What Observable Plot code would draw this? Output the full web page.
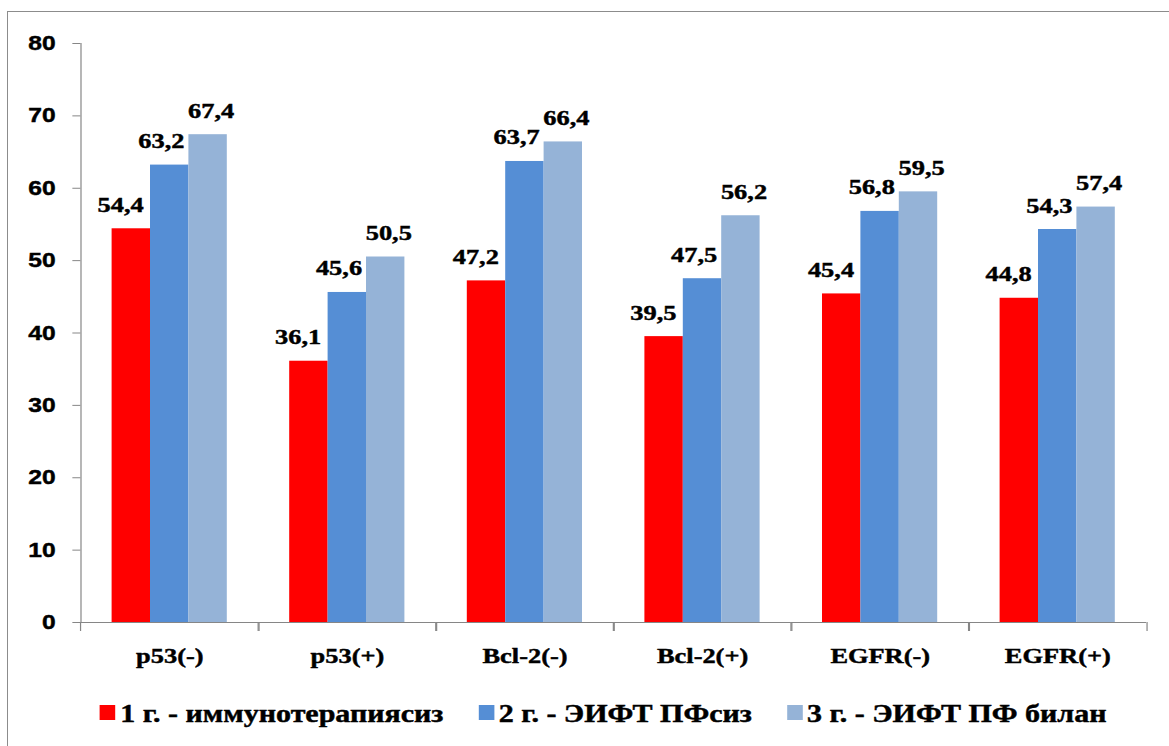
<!DOCTYPE html>
<html><head><meta charset="utf-8">
<script src="https://cdn.jsdelivr.net/npm/d3@7"></script>
<script src="https://cdn.jsdelivr.net/npm/@observablehq/plot@0.6"></script>
<style>
html,body{margin:0;padding:0;background:#fff;width:1169px;height:746px;overflow:hidden;}
#border{position:absolute;left:7px;top:11px;width:1200px;height:800px;border-left:1.5px solid #8c8c8c;border-top:1.5px solid #8c8c8c;}
#wrap{position:absolute;left:0;top:0;width:975px;height:746px;transform:scaleX(1.2);transform-origin:0 0;}
#chart{position:absolute;left:0;top:0;}
#chart svg text{stroke:#000;stroke-width:0.45px;}
#legend{position:absolute;left:83.3px;top:700px;display:flex;align-items:center;gap:29px;font:bold 25px "Liberation Serif","Times New Roman",serif;line-height:28px;color:#000;white-space:nowrap;-webkit-text-stroke:0.45px #000;}
.item{display:flex;align-items:center;}
.sw{display:inline-block;width:13px;height:15px;margin-right:4px;position:relative;top:-1.5px;}
</style></head>
<body>
<div id="border"></div>
<div id="wrap"><div id="chart"></div><div id="legend"></div></div>
<script>
const categories = ["p53(-)", "p53(+)", "Bcl-2(-)", "Bcl-2(+)", "EGFR(-)", "EGFR(+)"];
const series = ["1 г. - иммунотерапиясиз", "2 г. - ЭИФТ ПФсиз", "3 г. - ЭИФТ ПФ билан"];
const group1 = [54.4, 36.1, 47.2, 39.5, 45.4, 44.8];
const group2 = [63.2, 45.6, 63.7, 47.5, 56.8, 54.3];
const group3 = [67.4, 50.5, 66.4, 56.2, 59.5, 57.4];
const yTicks = [0, 10, 20, 30, 40, 50, 60, 70, 80];
const colors = ["#FF0000", "#558ED5", "#95B3D7"];

const values = [group1, group2, group3];
const data = categories.flatMap((c, i) => series.map((s, j) => ({category: c, series: s, value: values[j][i]})));
const fmt = v => v.toFixed(1).replace(".", ",");

const W = 975, H = 680;
const mL = 65, mR = 17.5, mT = 43, mB = 58;
const band = (W - mL - mR) / categories.length;
const axisColor = "#868686";
const serif = "'Liberation Serif', 'Times New Roman', serif";
const sans = "'Liberation Sans', Arial, sans-serif";
const labelDx = [-9, -7, 2.5];

const chart = Plot.plot({
  width: W, height: H,
  marginLeft: mL, marginRight: mR, marginTop: mT, marginBottom: mB,
  style: {background: "transparent", color: "#000", overflow: "visible"},
  fx: {domain: categories, padding: 0, label: null},
  x: {domain: series, paddingInner: 0, paddingOuter: 0.754, axis: null},
  y: {domain: [0, 80], label: null},
  color: {domain: series, range: colors},
  marks: [
    Plot.barY(data, {fx: "category", x: "series", y: "value", fill: "series"}),
    ...series.map((s, j) => Plot.text(data.filter(d => d.series === s), {
      fx: "category", x: "series", y: "value", text: d => fmt(d.value),
      lineAnchor: "bottom", dy: -17, dx: labelDx[j],
      fontSize: 22, fontWeight: "bold", fontFamily: serif, fill: "#000"
    })),
    Plot.ruleY([0], {stroke: axisColor}),
    Plot.frame({anchor: "left", facetAnchor: "left", stroke: axisColor}),
    Plot.axisY(yTicks, {tickSize: 6.7, tickPadding: 14.4, stroke: axisColor, fill: "#000", fontSize: 20.5, fontWeight: "bold", fontFamily: sans, label: null}),
    Plot.axisFx({anchor: "bottom", tickSize: 0, tickPadding: 25, fontSize: 22, fontWeight: "bold", fontFamily: serif, fill: "#000", label: null}),
    Plot.axisFx({anchor: "bottom", tickSize: 9, dx: -band / 2, stroke: axisColor, tickFormat: () => "", label: null}),
    Plot.axisFx([categories[categories.length - 1]], {anchor: "bottom", tickSize: 9, dx: band / 2, stroke: axisColor, tickFormat: () => "", label: null})
  ]
});
document.getElementById("chart").appendChild(chart);

const legend = document.getElementById("legend");
series.forEach((s, j) => {
  const item = document.createElement("div");
  item.className = "item";
  const sw = document.createElement("span");
  sw.className = "sw";
  sw.style.background = colors[j];
  const t = document.createElement("span");
  t.textContent = s;
  item.appendChild(sw);
  item.appendChild(t);
  legend.appendChild(item);
});
</script>
</body></html>
